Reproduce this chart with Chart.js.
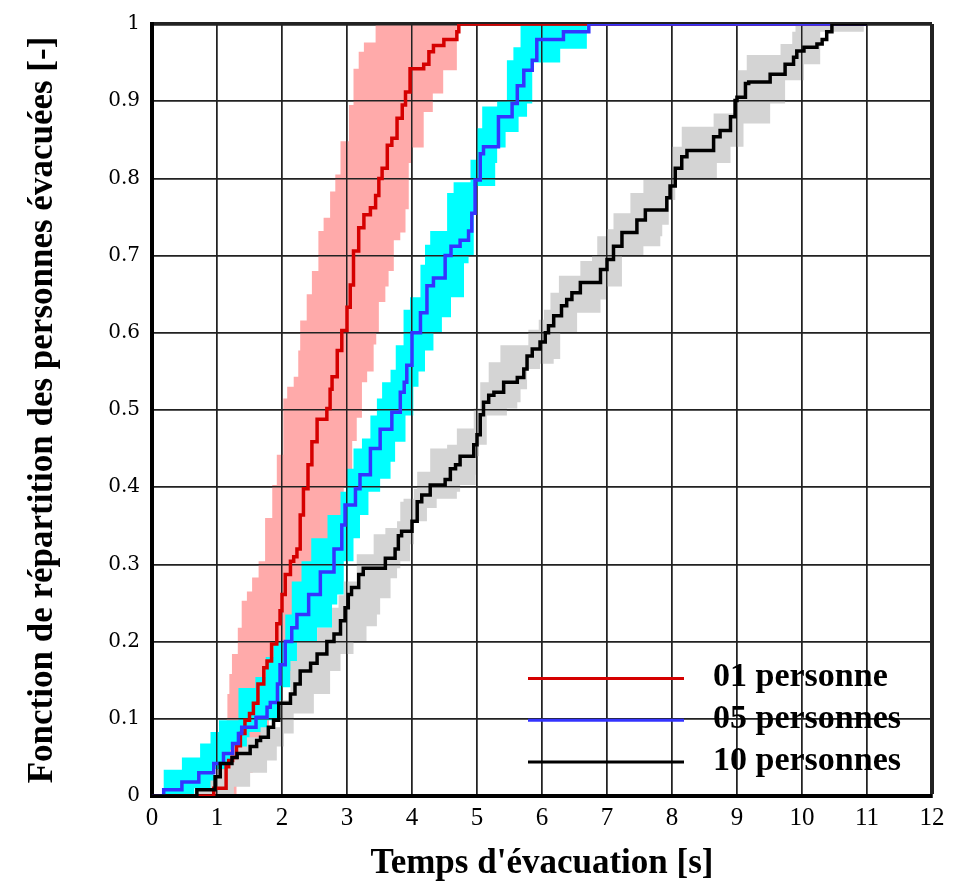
<!DOCTYPE html>
<html><head><meta charset="utf-8">
<script src="https://cdn.jsdelivr.net/npm/chart.js@4"></script>
<style>html,body{margin:0;padding:0;background:#fff}#wrap{width:956px;height:884px}</style>
</head><body><div id="wrap"><canvas id="c" width="956" height="884"></canvas></div>
<script>
// ---- tick labels ----
const xTickLabels = ['0','1','2','3','4','5','6','7','8','9','10','11','12'];
const yTickLabels = ['0','0.1','0.2','0.3','0.4','0.5','0.6','0.7','0.8','0.9','1'];
const seriesLabels = ['01 personne', '05 personnes', '10 personnes'];
const xTitle = "Temps d'évacuation [s]";
const yTitle = "Fonction de répartition des personnes évacuées [-]";

// ---- empirical CDF step points [time, fraction] ----
const cdf01 = [[0,0],[0.95,0.01],[1.14,0.038],[1.18,0.046],[1.24,0.05],[1.3,0.065],[1.36,0.081],[1.43,0.098],[1.5,0.107],[1.56,0.12],[1.63,0.145],[1.72,0.166],[1.77,0.175],[1.84,0.197],[1.92,0.223],[1.97,0.24],[2.0,0.261],[2.05,0.287],[2.13,0.304],[2.18,0.31],[2.23,0.32],[2.28,0.364],[2.33,0.398],[2.4,0.429],[2.46,0.459],[2.54,0.488],[2.69,0.502],[2.74,0.527],[2.77,0.543],[2.85,0.577],[2.92,0.603],[3.0,0.633],[3.05,0.662],[3.1,0.706],[3.18,0.736],[3.26,0.753],[3.36,0.762],[3.44,0.778],[3.49,0.8],[3.54,0.813],[3.62,0.843],[3.69,0.852],[3.77,0.878],[3.85,0.895],[3.9,0.912],[3.97,0.942],[4.18,0.948],[4.26,0.964],[4.33,0.972],[4.49,0.98],[4.69,0.99],[4.72,1.0],[11,1.0]];
const cdf05 = [[0,0],[0.18,0.008],[0.46,0.018],[0.72,0.03],[0.95,0.042],[1.1,0.055],[1.24,0.068],[1.33,0.081],[1.38,0.089],[1.6,0.102],[1.77,0.115],[1.82,0.121],[1.93,0.145],[1.97,0.17],[2.05,0.2],[2.15,0.218],[2.23,0.235],[2.41,0.261],[2.59,0.29],[2.8,0.32],[2.92,0.351],[2.97,0.377],[3.13,0.398],[3.2,0.416],[3.36,0.45],[3.51,0.475],[3.69,0.497],[3.82,0.523],[3.88,0.536],[3.92,0.558],[4.0,0.6],[4.13,0.626],[4.23,0.661],[4.33,0.671],[4.51,0.7],[4.6,0.712],[4.74,0.72],[4.87,0.732],[4.92,0.755],[4.97,0.798],[5.05,0.832],[5.1,0.841],[5.33,0.88],[5.54,0.897],[5.62,0.92],[5.72,0.94],[5.85,0.953],[5.92,0.98],[6.33,0.99],[6.72,1.0],[11,1.0]];
const cdf10 = [[0,0],[0.69,0.008],[0.97,0.025],[1.05,0.042],[1.23,0.05],[1.31,0.055],[1.51,0.064],[1.61,0.072],[1.67,0.076],[1.79,0.089],[1.87,0.098],[1.95,0.12],[2.13,0.132],[2.2,0.145],[2.28,0.162],[2.44,0.172],[2.54,0.184],[2.69,0.2],[2.8,0.21],[2.9,0.227],[2.97,0.244],[3.02,0.261],[3.07,0.27],[3.18,0.287],[3.25,0.295],[3.59,0.308],[3.74,0.32],[3.79,0.337],[3.84,0.343],[4.0,0.356],[4.08,0.381],[4.15,0.39],[4.28,0.403],[4.51,0.41],[4.59,0.424],[4.67,0.429],[4.74,0.44],[4.95,0.455],[5.0,0.468],[5.05,0.494],[5.1,0.51],[5.18,0.519],[5.26,0.523],[5.41,0.536],[5.62,0.542],[5.72,0.553],[5.77,0.57],[5.85,0.579],[5.97,0.588],[6.05,0.6],[6.1,0.609],[6.18,0.622],[6.3,0.635],[6.38,0.643],[6.46,0.652],[6.59,0.665],[6.9,0.682],[7.0,0.695],[7.1,0.712],[7.23,0.73],[7.46,0.746],[7.59,0.759],[7.92,0.775],[7.97,0.79],[8.05,0.813],[8.15,0.828],[8.23,0.836],[8.64,0.854],[8.74,0.862],[8.9,0.88],[8.97,0.901],[9.0,0.905],[9.13,0.923],[9.18,0.925],[9.51,0.935],[9.74,0.948],[9.87,0.957],[9.92,0.965],[10.03,0.97],[10.23,0.974],[10.31,0.98],[10.38,0.99],[10.46,1.0],[11,1.0]];

// ---- envelope bounds (upper = left edge, lower = right edge) ----
const band01Upper = [[0,0],[1.05,0.05],[1.15,0.1],[1.16,0.132],[1.19,0.158],[1.23,0.184],[1.32,0.218],[1.38,0.253],[1.46,0.265],[1.54,0.283],[1.64,0.304],[1.74,0.36],[1.85,0.403],[1.92,0.442],[2.02,0.515],[2.08,0.53],[2.18,0.543],[2.25,0.577],[2.28,0.616],[2.38,0.65],[2.46,0.68],[2.56,0.732],[2.64,0.749],[2.74,0.783],[2.82,0.805],[2.9,0.848],[3.03,0.895],[3.1,0.942],[3.18,0.964],[3.26,0.976],[3.44,1.0],[11,1.0]];
const band01Lower = [[0,0],[1.3,0.03],[1.55,0.06],[1.8,0.1],[2.0,0.15],[2.2,0.2],[2.4,0.25],[2.6,0.3],[2.8,0.35],[2.95,0.4],[3.08,0.46],[3.15,0.49],[3.23,0.536],[3.31,0.55],[3.41,0.585],[3.45,0.6],[3.49,0.64],[3.59,0.66],[3.64,0.68],[3.72,0.72],[3.82,0.73],[3.9,0.76],[3.95,0.82],[4.0,0.84],[4.18,0.886],[4.32,0.91],[4.48,0.94],[4.69,1.0],[11,1.0]];
const band05Upper = [[0,0],[0.18,0.034],[0.46,0.05],[0.74,0.068],[0.9,0.083],[1.03,0.098],[1.33,0.14],[1.59,0.154],[1.75,0.18],[1.87,0.2],[2.05,0.235],[2.15,0.278],[2.3,0.304],[2.45,0.334],[2.7,0.364],[2.9,0.394],[3.0,0.424],[3.1,0.45],[3.23,0.463],[3.36,0.493],[3.46,0.515],[3.54,0.536],[3.67,0.552],[3.75,0.584],[3.87,0.63],[3.97,0.646],[4.13,0.688],[4.2,0.714],[4.28,0.732],[4.54,0.781],[4.64,0.795],[4.9,0.824],[5.0,0.865],[5.08,0.893],[5.31,0.9],[5.46,0.953],[5.56,0.97],[5.67,1.0],[11,1.0]];
const band05Lower = [[0,0],[0.65,0.01],[0.95,0.035],[1.2,0.06],[1.5,0.083],[1.77,0.098],[2.0,0.141],[2.13,0.162],[2.28,0.184],[2.44,0.2],[2.54,0.218],[2.77,0.248],[2.85,0.261],[2.95,0.304],[3.1,0.334],[3.2,0.364],[3.33,0.394],[3.51,0.411],[3.67,0.433],[3.74,0.459],[3.9,0.493],[4.02,0.53],[4.1,0.55],[4.2,0.577],[4.33,0.6],[4.46,0.62],[4.6,0.646],[4.8,0.69],[4.87,0.7],[4.95,0.79],[5.28,0.82],[5.31,0.84],[5.44,0.86],[5.64,0.88],[5.77,0.897],[5.85,0.95],[6.28,0.968],[6.69,1.0],[11,1.0]];
const band10Upper = [[0,0],[0.69,0.01],[0.9,0.02],[1.0,0.034],[1.15,0.046],[1.26,0.064],[1.46,0.076],[1.67,0.089],[1.97,0.124],[2.13,0.175],[2.23,0.2],[2.54,0.218],[2.77,0.244],[2.87,0.26],[2.95,0.278],[3.15,0.313],[3.41,0.339],[3.59,0.347],[3.77,0.356],[3.82,0.381],[3.87,0.385],[4.03,0.398],[4.08,0.42],[4.28,0.45],[4.54,0.455],[4.69,0.476],[4.95,0.502],[5.05,0.536],[5.18,0.562],[5.36,0.584],[5.79,0.604],[5.95,0.617],[6.03,0.63],[6.13,0.652],[6.26,0.674],[6.59,0.693],[6.77,0.70],[6.85,0.725],[7.0,0.734],[7.1,0.755],[7.36,0.781],[7.56,0.798],[8.0,0.841],[8.15,0.867],[8.64,0.884],[8.97,0.906],[9.0,0.94],[9.15,0.96],[9.67,0.974],[9.85,0.99],[9.9,1.0],[11,1.0]];
const band10Lower = [[0,0],[1.26,0.012],[1.51,0.03],[1.77,0.046],[1.92,0.064],[2.03,0.081],[2.18,0.107],[2.49,0.132],[2.74,0.162],[2.9,0.184],[3.1,0.2],[3.3,0.22],[3.46,0.235],[3.51,0.256],[3.67,0.282],[3.77,0.295],[3.82,0.304],[3.97,0.326],[4.03,0.356],[4.23,0.373],[4.38,0.385],[4.69,0.394],[4.74,0.403],[4.98,0.416],[5.0,0.44],[5.03,0.455],[5.15,0.493],[5.46,0.502],[5.62,0.51],[5.67,0.527],[5.77,0.553],[5.97,0.56],[6.18,0.566],[6.28,0.6],[6.54,0.626],[6.9,0.643],[7.0,0.66],[7.23,0.70],[7.56,0.712],[7.82,0.725],[7.85,0.74],[7.95,0.772],[8.05,0.8],[8.69,0.82],[8.9,0.841],[9.1,0.871],[9.51,0.897],[9.74,0.927],[10.03,0.948],[10.28,0.99],[10.95,1.0],[11,1.0]];

const toXY = a => a.map(p => ({x: p[0], y: p[1]}));
const TRANSPARENT = 'rgba(0,0,0,0)';

function lineDS(label, data, color, order) {
  return {label, data: toXY(data), borderColor: color, backgroundColor: color, borderWidth: 3.5,
    pointRadius: 0, stepped: true, fill: false, order};
}
function bandDS(label, data, color, order, fill) {
  return {label, data: toXY(data), borderColor: TRANSPARENT, backgroundColor: color, borderWidth: 0,
    pointRadius: 0, stepped: true, fill, order};
}

const datasets = [
  lineDS(seriesLabels[2], cdf10, '#000000', 1),      // 0
  lineDS(seriesLabels[1], cdf05, '#3434ff', 2),      // 1
  lineDS(seriesLabels[0], cdf01, '#d50000', 3),      // 2
  bandDS('b10u', band10Upper, '#d4d4d4', 4, '+1'),   // 3
  bandDS('b10l', band10Lower, '#d4d4d4', 5, false),  // 4
  bandDS('b05u', band05Upper, '#00ffff', 6, '+1'),   // 5
  bandDS('b05l', band05Lower, '#00ffff', 7, false),  // 6
  bandDS('b01u', band01Upper, '#ffaaaa', 8, '+1'),   // 7
  bandDS('b01l', band01Lower, '#ffaaaa', 9, false)   // 8
];

// redraw grid over the envelopes (before the curves)
const gridOverBands = {
  id: 'gridOverBands',
  afterDatasetDraw(chart, args) {
    if (args.index === 3) {
      const a = chart.chartArea;
      chart.scales.x.drawGrid(a);
      chart.scales.y.drawGrid(a);
      if (chart.scales.x.drawBorder) chart.scales.x.drawBorder();
      if (chart.scales.y.drawBorder) chart.scales.y.drawBorder();
    }
  }
};

const insideLegend = {
  id: 'insideLegend',
  afterDraw(chart) {
    const {ctx, chartArea: a} = chart;
    const rows = [2, 1, 0];
    ctx.save();
    ctx.font = 'bold 34px "Liberation Serif"';
    ctx.textBaseline = 'middle';
    ctx.textAlign = 'left';
    rows.forEach((di, i) => {
      const ds = chart.data.datasets[di];
      const y = a.top + 654.5 + i * 41.8;
      ctx.strokeStyle = ds.borderColor;
      ctx.lineWidth = 3;
      ctx.beginPath(); ctx.moveTo(a.left + 376, y); ctx.lineTo(a.left + 532, y); ctx.stroke();
      ctx.fillStyle = '#000';
      ctx.fillText(ds.label, a.left + 561, y - 1);
    });
    ctx.restore();
  }
};

new Chart(document.getElementById('c'), {
  type: 'line',
  data: {datasets},
  plugins: [gridOverBands, insideLegend],
  options: {
    responsive: false,
    devicePixelRatio: 1,
    animation: false,
    events: [],
    layout: {padding: {top: 20, right: 24, left: 0, bottom: 0}},
    plugins: {legend: {display: false}, tooltip: {enabled: false}, filler: {propagate: false}},
    scales: {
      x: {
        type: 'linear', min: 0, max: 12,
        afterFit: s => { s.height = 88; },
        ticks: {stepSize: 1, padding: 7, color: '#000', maxRotation: 0,
          font: {family: 'Liberation Serif', size: 25},
          callback: (v, i) => xTickLabels[i]},
        grid: {drawTicks: false, color: '#222',
          lineWidth: c => (c.tick && c.tick.value === 12) ? 4 : 1.5},
        border: {display: true, color: '#000', width: 4},
        title: {display: true, text: xTitle, color: '#000',
          font: {family: 'Liberation Serif', size: 35, weight: 'bold', lineHeight: 1},
          padding: {top: 0, bottom: 3}}
      },
      y: {
        type: 'linear', min: 0, max: 1,
        afterFit: s => { s.width = 152; },
        ticks: {stepSize: 0.1, padding: 12, color: '#000',
          font: {family: 'DejaVu Serif', size: 20},
          callback: (v, i) => yTickLabels[i]},
        grid: {drawTicks: false, color: '#222',
          lineWidth: c => (c.tick && c.tick.value === 1) ? 3.5 : 1.5},
        border: {display: true, color: '#000', width: 4},
        title: {display: true, text: yTitle, color: '#000',
          font: {family: 'Liberation Serif', size: 35, weight: 'bold', lineHeight: 1},
          padding: {top: 25, bottom: 0}}
      }
    }
  }
});
</script>
</body></html>
